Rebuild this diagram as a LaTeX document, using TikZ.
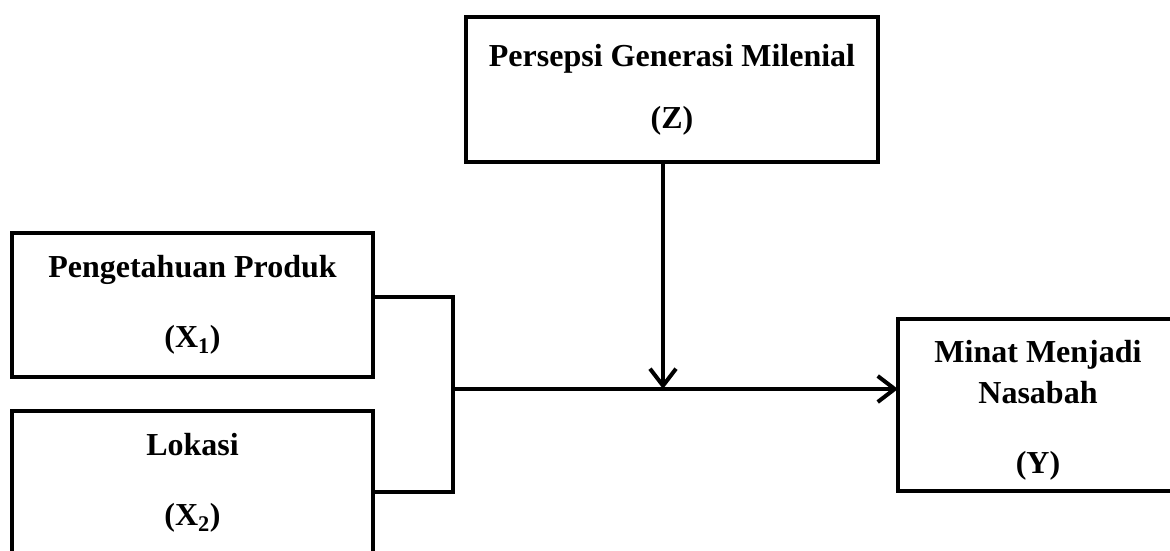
\documentclass[tikz,border=0pt]{standalone}
\usepackage{fontspec}
\setmainfont{Liberation Serif}
\usetikzlibrary{arrows.meta}

\begin{document}
\begin{tikzpicture}[x=1pt,y=-1pt]
\tikzset
{%定义方框与连线样式
  box/.style={draw,line width=4pt,rectangle,outer sep=0pt,inner sep=0pt,align=center,
    font=\fontsize{32}{35}\selectfont\bfseries},
  link/.style={draw,line width=4pt},
  arr/.style={link,-{Straight Barb[length=17pt,width=26pt]}},
}
\useasboundingbox (0,0) rectangle (1170,551);

\path node[box,minimum width=412pt,minimum height=145pt] (Z) at (672,89.5)
  {Persepsi Generasi Milenial\\[27pt](Z)};
\path node[box,minimum width=361pt,minimum height=144pt] (X1) at (192.5,305)
  {Pengetahuan Produk\\[35pt](X\textsubscript{1})};
\path node[box,minimum width=361pt,minimum height=144pt] (X2) at (192.5,483)
  {Lokasi\\[35pt](X\textsubscript{2})};
\path node[box,minimum width=280pt,minimum height=172pt] (Y) at (1038,405)
  {\rule{0pt}{33pt}Minat Menjadi\\[6pt]Nasabah\\[35pt](Y)};

\coordinate (jtop) at (453,297);
\coordinate (jbot) at (453,492);
\coordinate (jmid) at (453,389);
\coordinate (mod) at (663,389);

\path[link] (X1.east |- jtop) -- (jtop) -- (jbot) -- (X2.east |- jbot);
\path[arr] (jmid) -- (Y.west |- jmid);
\path[arr] (Z.south -| mod) -- (mod);
\end{tikzpicture}
\end{document}
